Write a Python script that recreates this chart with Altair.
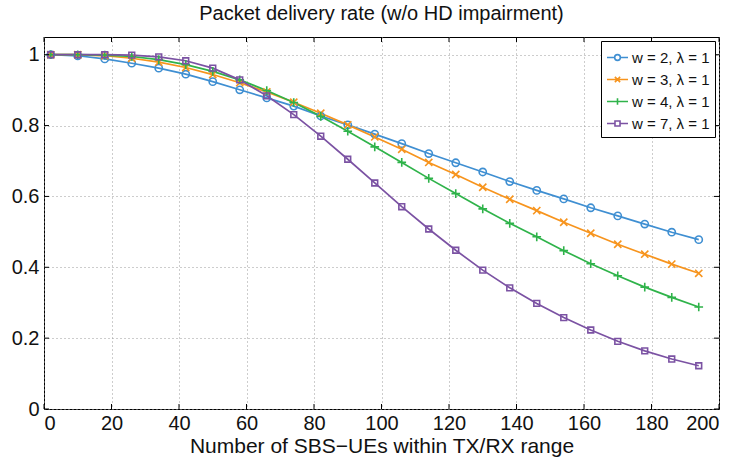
import altair as alt
import pandas as pd

# ---- data ----
x_vals = [2, 10, 18, 26, 34, 42, 50, 58, 66, 74, 82, 90, 98,
          106, 114, 122, 130, 138, 146, 154, 162, 170, 178, 186, 194]

w2 = [1.0, 0.997, 0.988, 0.976, 0.962, 0.945, 0.924, 0.901, 0.878, 0.855, 0.827, 0.802, 0.776,
      0.749, 0.721, 0.695, 0.669, 0.642, 0.617, 0.593, 0.568, 0.545, 0.522, 0.499, 0.478]
w3 = [1.0, 1.0, 0.997, 0.990, 0.979, 0.964, 0.944, 0.921, 0.895, 0.866, 0.835, 0.802, 0.768,
      0.733, 0.696, 0.662, 0.626, 0.592, 0.560, 0.527, 0.496, 0.465, 0.437, 0.409, 0.383]
w4 = [1.0, 1.0, 0.999, 0.995, 0.986, 0.972, 0.953, 0.929, 0.899, 0.865, 0.826, 0.784, 0.740,
      0.696, 0.651, 0.608, 0.565, 0.524, 0.486, 0.447, 0.410, 0.376, 0.344, 0.315, 0.288]
w7 = [1.0, 1.0, 1.0, 0.999, 0.994, 0.983, 0.962, 0.929, 0.884, 0.831, 0.770, 0.705, 0.638,
      0.571, 0.508, 0.448, 0.392, 0.342, 0.298, 0.258, 0.223, 0.191, 0.164, 0.141, 0.122]

labels = ["w = 2, λ = 1", "w = 3, λ = 1", "w = 4, λ = 1", "w = 7, λ = 1"]
colors = ["#3f8fd2", "#f7941d", "#2fb34a", "#7b52a3"]

x_ticks = [0, 20, 40, 60, 80, 100, 120, 140, 160, 180, 200]
y_ticks = [0, 0.2, 0.4, 0.6, 0.8, 1.0]

# marker shapes (chart) and marker+line shapes (legend)
marker_shapes = ["circle", "M-1,-1L1,1M-1,1L1,-1", "M-1.2,0H1.2M0,-1.2V1.2",
                 "M-0.8,-0.8H0.8V0.8H-0.8Z"]
legend_shapes = [
    "M-1,0H-0.27M0.27,0H1M-0.27,0A0.27,0.27 0 1,1 0.27,0A0.27,0.27 0 1,1 -0.27,0",
    "M-1,0H1M-0.25,-0.25L0.25,0.25M-0.25,0.25L0.25,-0.25",
    "M-1,0H1M0,-0.32V0.32",
    "M-1,0H-0.24M0.24,0H1M-0.24,-0.24H0.24V0.24H-0.24Z",
]

rows = []
for lab, vals in zip(labels, [w2, w3, w4, w7]):
    for xv, yv in zip(x_vals, vals):
        rows.append({"x": xv, "y": yv, "series": lab})
df = pd.DataFrame(rows)

W, H = 675, 372
FONT = "Liberation Sans"

xscale = alt.Scale(domain=[0, 200], nice=False, zero=False)
yscale = alt.Scale(domain=[0, 1.05], nice=False, zero=False)

x_axis = alt.Axis(values=x_ticks, title="Number of SBS−UEs within TX/RX range",
                  labelPadding=4, titlePadding=2, format="d")
y_axis = alt.Axis(values=y_ticks, title=None, format=".1~f", labelPadding=5)


def color_enc(legend):
    return alt.Color("series:N", scale=alt.Scale(domain=labels, range=colors), legend=legend)


base = alt.Chart(df)

lines = base.mark_line(strokeWidth=1.7).encode(
    x=alt.X("x:Q", scale=xscale, axis=x_axis),
    y=alt.Y("y:Q", scale=yscale, axis=y_axis),
    color=color_enc(None),
    detail="series:N",
)

points = base.mark_point(filled=False, size=52, strokeWidth=1.6, opacity=1).encode(
    x=alt.X("x:Q", scale=xscale),
    y=alt.Y("y:Q", scale=yscale),
    color=color_enc(None),
    shape=alt.Shape("series:N", scale=alt.Scale(domain=labels, range=marker_shapes), legend=None),
)

leg = alt.Legend(title=None, orient="top-right", offset=4, fillColor="white",
                 strokeColor="black", padding=5, labelFontSize=15, labelFont=FONT,
                 labelColor="#111", symbolSize=441, symbolStrokeWidth=1.6,
                 rowPadding=2, labelOffset=3)

legend_layer = base.transform_filter("false").mark_point(
    filled=False, size=441, strokeWidth=1.6, opacity=1
).encode(
    color=color_enc(leg),
    shape=alt.Shape("series:N", scale=alt.Scale(domain=labels, range=legend_shapes), legend=leg),
)

# inward ticks on all four sides
xt = pd.DataFrame({"x": x_ticks})
yt = pd.DataFrame({"y": y_ticks})
tick_bottom = alt.Chart(xt).mark_rule(color="black", strokeWidth=1).encode(
    x=alt.X("x:Q", scale=xscale), y=alt.value(H), y2=alt.value(H - 5))
tick_top = alt.Chart(xt).mark_rule(color="black", strokeWidth=1).encode(
    x=alt.X("x:Q", scale=xscale), y=alt.value(0), y2=alt.value(5))
tick_left = alt.Chart(yt).mark_rule(color="black", strokeWidth=1).encode(
    y=alt.Y("y:Q", scale=yscale), x=alt.value(0), x2=alt.value(5))
tick_right = alt.Chart(yt).mark_rule(color="black", strokeWidth=1).encode(
    y=alt.Y("y:Q", scale=yscale), x=alt.value(W), x2=alt.value(W - 5))

chart = alt.layer(
    lines, points, legend_layer, tick_bottom, tick_top, tick_left, tick_right
).resolve_scale(
    color="independent", shape="independent"
).properties(
    width=W, height=H,
    background="white",
    title=alt.Title("Packet delivery rate (w/o HD impairment)", fontSize=20,
                    font=FONT, fontWeight="normal", color="#111", offset=13),
    autosize=alt.AutoSizeParams(type="none"),
    padding={"left": 44, "top": 37, "right": 16, "bottom": 52},
).configure_view(
    stroke="black", strokeWidth=1
).configure_axis(
    domain=False, ticks=False, grid=True, gridDash=[1, 3], gridColor="#9a9a9a",
    gridWidth=1, labelFont=FONT, labelFontSize=20, labelColor="#111",
    titleFont=FONT, titleFontSize=21, titleFontWeight="normal", titleColor="#111",
)

chart.save("out.html", embed_options={"renderer": "svg", "actions": False})
